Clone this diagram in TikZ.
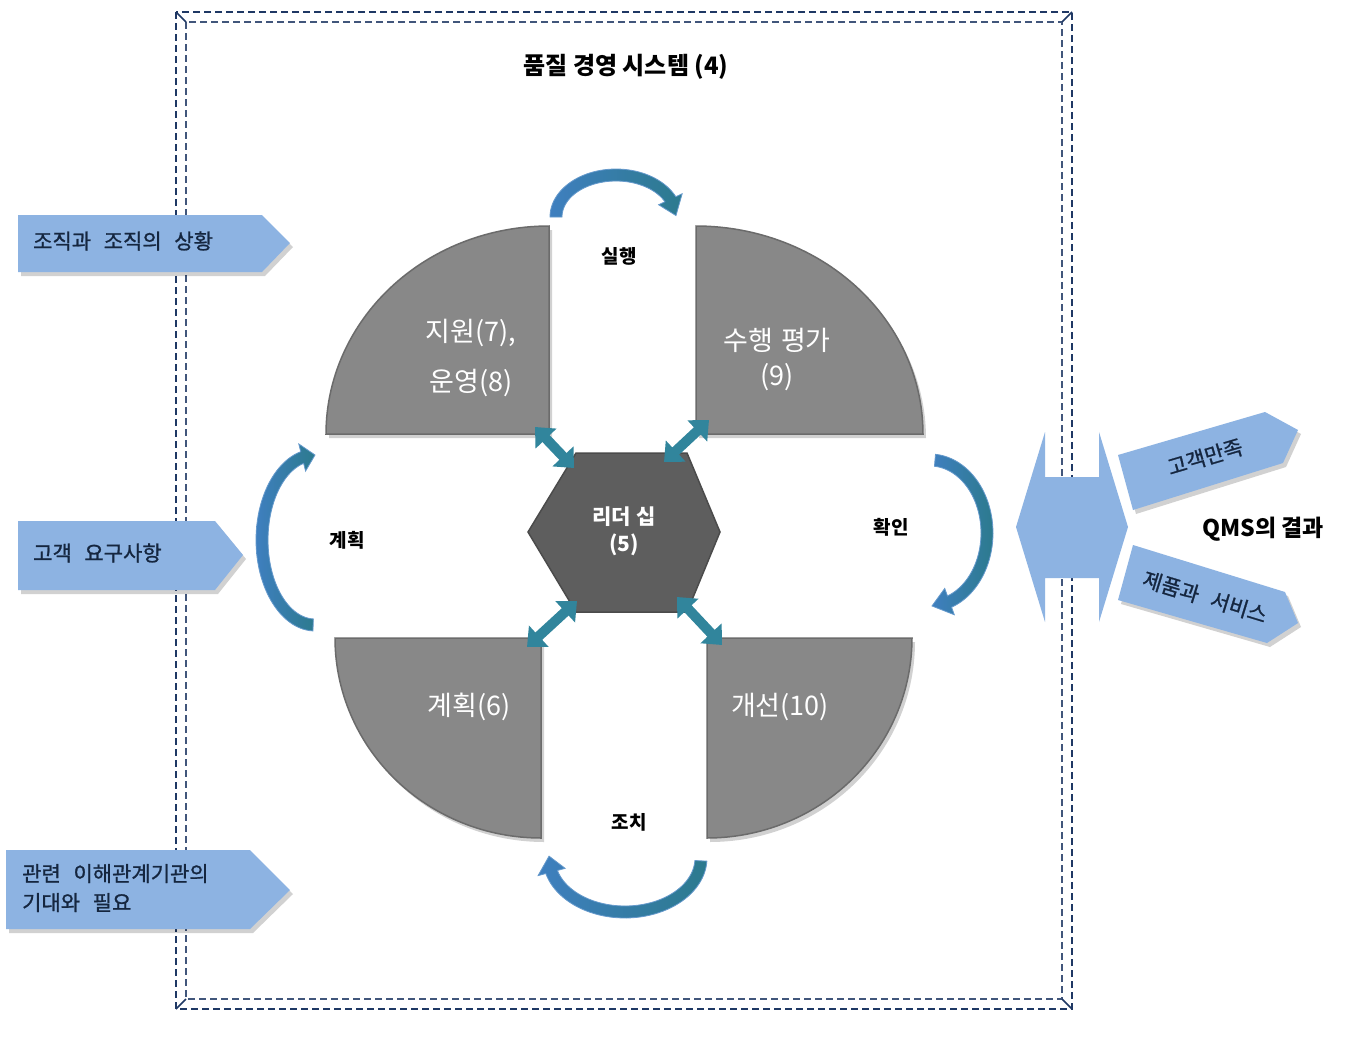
\documentclass[tikz,border=0pt]{standalone}
\usepackage{fontspec}
\setmainfont{Noto Sans CJK KR}
\newfontfamily\krfb{Noto Sans CJK KR}[FakeBold=1]
\usetikzlibrary{arrows.meta}
\definecolor{navy}{HTML}{1F3864}
\definecolor{qgray}{HTML}{888888}
\definecolor{qedge}{HTML}{6B6B6B}
\definecolor{hexg}{HTML}{5E5E5E}
\definecolor{lblue}{HTML}{8DB3E2}
\definecolor{tealA}{HTML}{31859C}
\definecolor{cblue}{HTML}{3F7FBF}
\definecolor{cteal}{HTML}{2C7A8E}
\definecolor{ctext}{HTML}{15263F}
\newcommand\cvarrow[9]{%
 \pgfmathsetmacro\oa{#3+#8}\pgfmathsetmacro\ob{#4+#8}%
 \pgfmathsetmacro\ia{#3-#8}\pgfmathsetmacro\ib{#4-#8}%
 \pgfmathsetmacro\ha{#3+#8+#9}\pgfmathsetmacro\hb{#4+#8+#9}%
 \pgfmathsetmacro\ja{#3-#8-#9}\pgfmathsetmacro\jb{#4-#8-#9}%
 \shade[curv] plot[domain=#5:#6,samples=50] ({#1+\oa*cos(\x)},{#2+\ob*sin(\x)})
   -- ({#1+\ha*cos(#6)},{#2+\hb*sin(#6)})
   -- ({#1+#3*cos(#7)},{#2+#4*sin(#7)})
   -- ({#1+\ja*cos(#6)},{#2+\jb*sin(#6)})
   -- plot[domain=#6:#5,samples=50] ({#1+\ia*cos(\x)},{#2+\ib*sin(\x)}) -- cycle;}
\tikzset{
 frameline/.style={draw=navy, line width=1.8pt, dash pattern=on 7pt off 4pt},
 quarter/.style={fill=qgray, draw=qedge, line width=1.5pt},
 hexa/.style={fill=hexg, draw=hexg!80!black, line width=1.5pt},
 inarrow/.style={fill=lblue},
 shadowshape/.style={fill=black, opacity=0.18},
 curv/.style={left color=cblue, right color=cteal, draw=cblue!80!white, line width=0.8pt},
 dbl/.style={draw=tealA, line width=10pt, {Triangle[width=28pt,length=16pt]}-{Triangle[width=28pt,length=16pt]}},
 blk/.style={font=\bfseries\fontsize{19pt}{19pt}\selectfont, text=black, inner sep=0pt},
 wlab/.style={font=\fontsize{27pt}{27pt}\selectfont, text=white, inner sep=0pt},
 intext/.style={font=\krfb\fontsize{21pt}{29pt}\selectfont, text=ctext, align=left, inner sep=0pt},
}
\begin{document}
\begin{tikzpicture}[x=1pt,y=-1pt]
\useasboundingbox (0,0) rectangle (1347,1050);
\fill[white] (0,0) rectangle (1347,1050);
% frame
\draw[frameline] (176,12) rectangle (1072,1009);
\draw[frameline, draw=navy!85] (186,22) rectangle (1062,999);
\draw[navy, line width=1.5pt] (176,12) -- (186,22) (1072,12) -- (1062,22) (176,1009) -- (186,999) (1072,1009) -- (1062,999);
% title
\node[blk, font=\bfseries\fontsize{24pt}{24pt}\selectfont] (title) at (626,67) {품질 경영 시스템 (4)};
% quarters
\fill[shadowshape] (552,438) -- plot[domain=180:270,samples=60] ({552+223*cos(\x)},{438+208*sin(\x)}) -- cycle;
\draw[quarter] (549,434) -- plot[domain=180:270,samples=60] ({549+223*cos(\x)},{434+208*sin(\x)}) -- cycle;
\fill[shadowshape] (699,438) -- plot[domain=270:360,samples=60] ({699+227*cos(\x)},{438+208*sin(\x)}) -- cycle;
\draw[quarter] (696,434) -- plot[domain=270:360,samples=60] ({696+227*cos(\x)},{434+208*sin(\x)}) -- cycle;
\fill[shadowshape] (544,642) -- plot[domain=90:180,samples=60] ({544+206*cos(\x)},{642+200*sin(\x)}) -- cycle;
\draw[quarter] (541,638) -- plot[domain=90:180,samples=60] ({541+206*cos(\x)},{638+200*sin(\x)}) -- cycle;
\fill[shadowshape] (710,642) -- plot[domain=0:90,samples=60] ({710+205*cos(\x)},{642+200*sin(\x)}) -- cycle;
\draw[quarter] (707,638) -- plot[domain=0:90,samples=60] ({707+205*cos(\x)},{638+200*sin(\x)}) -- cycle;
% hexagon
\draw[hexa] (576,453) -- (687,453) -- (720,532) -- (687,612) -- (576,612) -- (528,532) -- cycle;
\node[blk, text=white, font=\bfseries\fontsize{21pt}{21pt}\selectfont] (lead) at (624,517) {리더 십};
\node[blk, text=white, font=\bfseries\fontsize{21pt}{21pt}\selectfont] (leadn) at (624,545) {(5)};
% quarter labels
\node[wlab] (q1a) at (471,333) {지원(7),};
\node[wlab] (q1b) at (471,383) {운영(8)};
\node[wlab] (q2a) at (777,340) {수행\hspace{0.3em}평가};
\node[wlab] (q2b) at (777,377) {(9)};
\node[wlab] (q3) at (469,707) {계획(6)};
\node[wlab] (q4) at (780,707) {개선(10)};
% cycle labels
\node[blk] (doL) at (619,256) {실행};
\node[blk] (planL) at (347,540) {계획};
\node[blk] (checkL) at (891,527) {확인};
\node[blk] (actL) at (629,822) {조치};
% double arrows
\coordinate (tlA) at (535,427); \coordinate (tlB) at (574,468);
\coordinate (trA) at (709,420); \coordinate (trB) at (664,462);
\coordinate (blA) at (527,647); \coordinate (blB) at (577,601);
\coordinate (brA) at (722,645); \coordinate (brB) at (677,597);
\draw[dbl] (tlA) -- (tlB);
\draw[dbl] (trA) -- (trB);
\draw[dbl] (blA) -- (blB);
\draw[dbl] (brA) -- (brB);
% curved arrows
\cvarrow{616}{217}{60}{42}{180}{335}{358}{6}{7}
\cvarrow{930}{533}{57}{73}{275}{430}{448}{6}{8}
\cvarrow{315}{540}{53}{85}{92}{256}{270}{6}{8}
\cvarrow{625}{858}{76}{54}{3}{165}{182}{6}{8}
% input arrows (left)
\fill[shadowshape] (21,219) -- (265,219) -- (293,247) -- (265,276) -- (21,276) -- cycle;
\fill[inarrow] (18,215) -- (262,215) -- (290,243) -- (262,272) -- (18,272) -- cycle;
\node[intext, anchor=west] (in1) at (33,241) {조직과\hspace{0.6em}조직의\hspace{0.6em}상황};
\fill[shadowshape] (21,525) -- (218,525) -- (246,559) -- (218,594) -- (21,594) -- cycle;
\fill[inarrow] (18,521) -- (215,521) -- (243,555) -- (215,590) -- (18,590) -- cycle;
\node[intext, anchor=west] (in2) at (33,553) {고객\hspace{0.6em}요구사항};
\fill[shadowshape] (9,854) -- (253,854) -- (293,894) -- (253,933) -- (9,933) -- cycle;
\fill[inarrow] (6,850) -- (250,850) -- (290,890) -- (250,929) -- (6,929) -- cycle;
\node[intext, anchor=west] (in3) at (22,888) {관련\hspace{0.6em}이해관계기관의\\기대와\hspace{0.6em}필요};
% output double arrow
\fill[inarrow] (1016,527) -- (1045,432) -- (1045,477) -- (1099,477) -- (1099,432) -- (1128,527) -- (1099,622) -- (1099,578) -- (1045,578) -- (1045,622) -- cycle;
% output arrows (right)
\fill[shadowshape] (1121,459) -- (1268,416) -- (1301,434) -- (1286,467) -- (1136,514) -- cycle;
\fill[inarrow] (1118,455) -- (1265,412) -- (1298,430) -- (1283,463) -- (1133,510) -- cycle;
\node[intext, rotate=16.5] (out1) at (1205,457) {고객만족};
\fill[shadowshape] (1136,549) -- (1288,596) -- (1301,627) -- (1270,647) -- (1121,604) -- cycle;
\fill[inarrow] (1133,545) -- (1285,592) -- (1298,623) -- (1267,643) -- (1118,600) -- cycle;
\node[intext, rotate=-17] (out2) at (1205,597) {제품과\hspace{0.6em}서비스};
\node[blk, font=\bfseries\fontsize{23pt}{23pt}\selectfont] (qms) at (1263,529) {QMS의 결과};
\end{tikzpicture}
\end{document}
